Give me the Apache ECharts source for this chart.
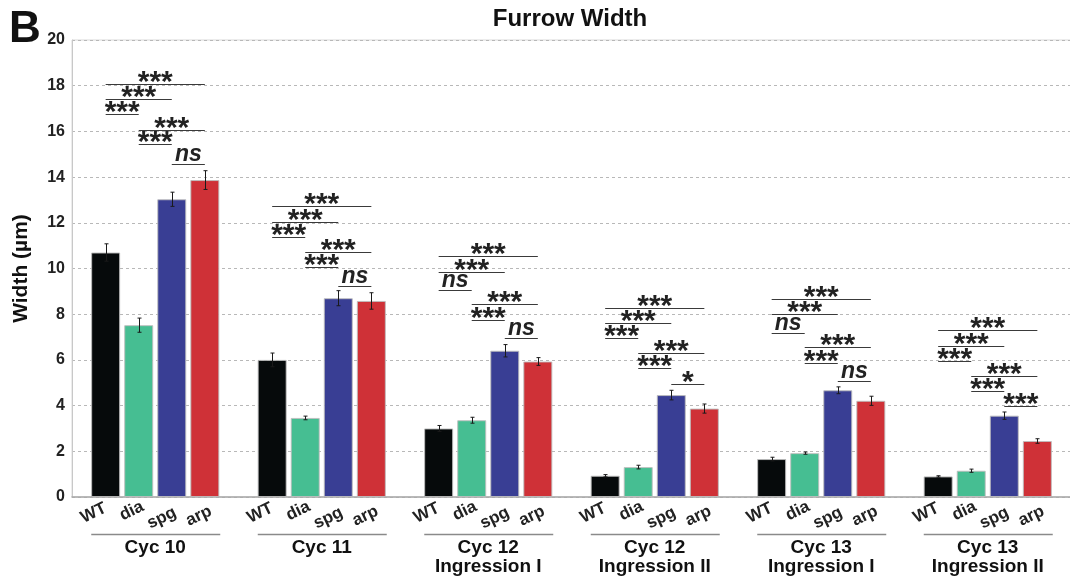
<!DOCTYPE html>
<html>
<head>
<meta charset="utf-8">
<script src="https://cdn.jsdelivr.net/npm/echarts@6/dist/echarts.min.js"></script>
<style>
  html, body { margin: 0; padding: 0; background: #fff; }
  #chart { width: 1070px; height: 579px; }
</style>
</head>
<body>
<div id="chart"></div>
<script>
// ---- data ----
const CATEGORIES = ['Cyc 10', 'Cyc 11', 'Cyc 12\nIngression I', 'Cyc 12\nIngression II', 'Cyc 13\nIngression I', 'Cyc 13\nIngression II'];
const GENOTYPES = ['WT', 'dia', 'spg', 'arp'];
const WT  = [10.7, 6.0, 3.0, 0.93, 1.66, 0.9];
const DIA = [7.52, 3.46, 3.36, 1.31, 1.92, 1.15];
const SPG = [13.03, 8.7, 6.4, 4.46, 4.67, 3.56];
const ARP = [13.87, 8.58, 5.93, 3.87, 4.21, 2.45];
const WT_ERR  = [0.38, 0.3, 0.13, 0.05, 0.08, 0.03];
const DIA_ERR = [0.31, 0.08, 0.13, 0.08, 0.05, 0.07];
const SPG_ERR = [0.31, 0.33, 0.27, 0.21, 0.15, 0.16];
const ARP_ERR = [0.41, 0.36, 0.17, 0.2, 0.2, 0.1];
const Y_TICKS = [0, 2, 4, 6, 8, 10, 12, 14, 16, 18, 20];
// significance comparisons (genotype index pairs), bracket heights (µm) and labels per group
const SIG_PAIRS = [[0, 3], [0, 2], [0, 1], [1, 3], [1, 2], [2, 3]];
const SIG_HEIGHTS = [
  [18.06, 17.4, 16.75, 16.06, 15.45, 14.56],
  [12.75, 12.05, 11.39, 10.74, 10.08, 9.23],
  [10.56, 9.86, 9.06, 8.45, 7.75, 6.95],
  [8.28, 7.6, 6.94, 6.3, 5.63, 4.96],
  [8.67, 8.0, 7.19, 6.56, 5.88, 5.08],
  [7.29, 6.62, 5.96, 5.3, 4.65, 4.0]
];
const SIG_LABELS = [
  ['***', '***', '***', '***', '***', 'ns'],
  ['***', '***', '***', '***', '***', 'ns'],
  ['***', '***', 'ns', '***', '***', 'ns'],
  ['***', '***', '***', '***', '***', '*'],
  ['***', '***', 'ns', '***', '***', 'ns'],
  ['***', '***', '***', '***', '***', '***']
];

// ---- styling / layout ----
const VALUES = [WT, DIA, SPG, ARP];
const ERRORS = [WT_ERR, DIA_ERR, SPG_ERR, ARP_ERR];
const COLORS = ['#060a0b', '#46be92', '#393e94', '#cf3137'];
const FONT = "'Liberation Sans', Arial, sans-serif";
const BAR_W = 29;
const BAR_GAP_PCT = 14;
const STEP = BAR_W * (1 + BAR_GAP_PCT / 100);
function off(k) { return (k - 1.5) * STEP; }
// tick label nudges (dx, dy from bar centre at the baseline)
const LABEL_NUDGE = [[-12, 16], [-7, 14], [-10, 21], [-6, 19]];

const chart = echarts.init(document.getElementById('chart'), null, { renderer: 'canvas' });

const barSeries = GENOTYPES.map((name, k) => ({
  name: name,
  type: 'bar',
  data: VALUES[k],
  barWidth: BAR_W,
  barGap: BAR_GAP_PCT + '%',
  itemStyle: { color: COLORS[k], borderColor: 'rgba(190,190,190,0.9)', borderWidth: 1 },
  emphasis: { disabled: true },
  z: 2
}));

const errData = [];
GENOTYPES.forEach((n, k) => VALUES[k].forEach((v, g) => errData.push([g, k, v, ERRORS[k][g]])));

const sigData = [];
SIG_HEIGHTS.forEach((hs, g) => hs.forEach((h, p) => sigData.push([g, p, h])));

const labelData = [];
CATEGORIES.forEach((c, g) => GENOTYPES.forEach((n, k) => labelData.push([g, k, 0])));

const groupData = CATEGORIES.map((c, g) => [g, 0]);

const option = {
  animation: false,
  backgroundColor: '#fff',
  grid: {
    left: 72, right: -1, top: 40, bottom: 82,
    containLabel: false, outerBoundsMode: 'none',
    show: true, borderColor: '#d8d8d8', borderWidth: 1
  },
  xAxis: {
    type: 'category',
    data: CATEGORIES,
    axisLine: { lineStyle: { color: '#a8a8a8', width: 1.5 } },
    axisTick: { show: false },
    axisLabel: {
      margin: 41, color: '#111', fontFamily: FONT, fontWeight: 'bold', fontSize: 19, lineHeight: 19
    },
    splitLine: { show: false }
  },
  yAxis: {
    type: 'value',
    min: 0, max: 20, interval: 2,
    name: 'Width (µm)',
    nameLocation: 'middle',
    nameGap: 40,
    nameTextStyle: { fontFamily: FONT, fontWeight: 'bold', fontSize: 21, color: '#111' },
    axisLine: { show: true, lineStyle: { color: '#c8c8c8', width: 1 } },
    axisTick: { show: false },
    axisLabel: {
      margin: 7, color: '#222', fontFamily: FONT, fontWeight: 'bold', fontSize: 16,
      formatter: v => (Y_TICKS.indexOf(v) >= 0 ? String(v) : '')
    },
    splitLine: { show: true, lineStyle: { color: '#b8b8b8', type: [3, 3], width: 1 } }
  },
  graphic: [
    { type: 'text', left: 9, top: 8, style: { text: 'B', font: 'bold 44px ' + FONT, fill: '#111' } },
    { type: 'text', x: 570, y: 19, style: { text: 'Furrow Width', font: 'bold 24px ' + FONT, fill: '#111', textAlign: 'center', textVerticalAlign: 'middle' } }
  ],
  series: barSeries.concat([
    {
      type: 'custom',
      name: 'error',
      data: errData,
      encode: { x: 0, y: 2 },
      z: 5,
      silent: true,
      renderItem: function (params, api) {
        const g = api.value(0), k = api.value(1), v = api.value(2), e = api.value(3);
        const top = api.coord([g, v + e]);
        const bot = api.coord([g, v - e]);
        const x = Math.round(top[0] + off(k)) + 0.5;
        const st = { stroke: '#1a1a1a', lineWidth: 1 };
        return {
          type: 'group',
          children: [
            { type: 'line', shape: { x1: x, y1: top[1], x2: x, y2: bot[1] }, style: st },
            { type: 'line', shape: { x1: x - 2, y1: top[1], x2: x + 2, y2: top[1] }, style: st },
            { type: 'line', shape: { x1: x - 2, y1: bot[1], x2: x + 2, y2: bot[1] }, style: st }
          ]
        };
      }
    },
    {
      type: 'custom',
      name: 'significance',
      data: sigData,
      encode: { x: 0, y: 2 },
      z: 6,
      silent: true,
      renderItem: function (params, api) {
        const g = api.value(0), p = api.value(1), h = api.value(2);
        const pair = SIG_PAIRS[p];
        const label = SIG_LABELS[g][p];
        const c = api.coord([g, h]);
        const x1 = c[0] + off(pair[0]);
        const x2 = c[0] + off(pair[1]);
        const y = Math.round(c[1]) + 0.5;
        const isStar = label.indexOf('*') >= 0;
        const text = isStar
          ? { type: 'text', x: (x1 + x2) / 2, y: y - 2,
              style: { text: label, font: 'bold 30px ' + FONT, fill: '#222', textAlign: 'center', textVerticalAlign: 'middle' } }
          : { type: 'text', x: (x1 + x2) / 2, y: y - 10,
              style: { text: label, font: 'italic bold 23px ' + FONT, fill: '#222', textAlign: 'center', textVerticalAlign: 'middle' } };
        return {
          type: 'group',
          children: [
            { type: 'line', shape: { x1: x1, y1: y, x2: x2, y2: y }, style: { stroke: '#3a3a3a', lineWidth: 1.2 } },
            text
          ]
        };
      }
    },
    {
      type: 'custom',
      name: 'genotype labels',
      data: labelData,
      encode: { x: 0, y: 2 },
      z: 6,
      silent: true,
      renderItem: function (params, api) {
        const g = api.value(0), k = api.value(1);
        const c = api.coord([g, 0]);
        return {
          type: 'text',
          x: c[0] + off(k) + LABEL_NUDGE[k][0],
          y: c[1] + LABEL_NUDGE[k][1],
          rotation: 0.45,
          style: { text: GENOTYPES[k], font: 'bold 17px ' + FONT, fill: '#222', textAlign: 'center', textVerticalAlign: 'middle' }
        };
      }
    },
    {
      type: 'custom',
      name: 'group lines',
      data: groupData,
      encode: { x: 0, y: 1 },
      z: 6,
      silent: true,
      renderItem: function (params, api) {
        const g = api.value(0);
        const c = api.coord([g, 0]);
        const y = Math.round(c[1] + 37) + 0.5;
        return {
          type: 'line',
          shape: { x1: c[0] - 64, y1: y, x2: c[0] + 65, y2: y },
          style: { stroke: '#8a8a8a', lineWidth: 1.3 }
        };
      }
    }
  ])
};

chart.setOption(option);
</script>
</body>
</html>
